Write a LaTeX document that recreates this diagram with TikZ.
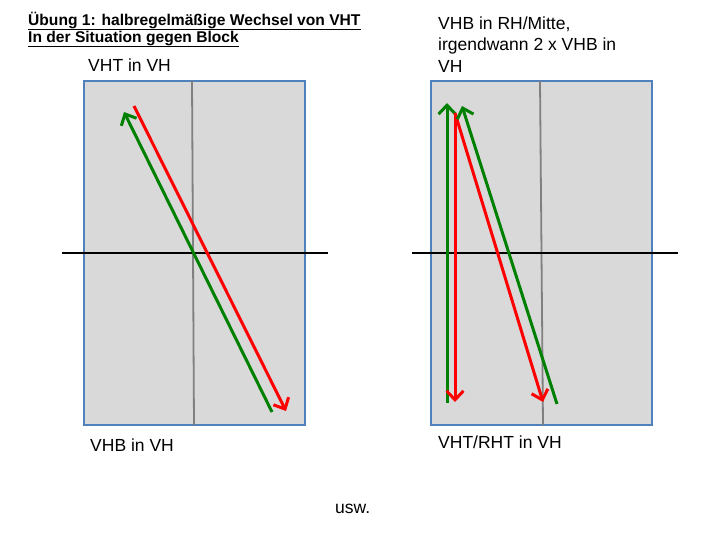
\documentclass[tikz,border=0pt]{standalone}
\usepackage{fontspec}
\setmainfont{Liberation Sans}
\usetikzlibrary{arrows.meta}
\definecolor{boxfill}{HTML}{D9D9D9}
\definecolor{boxline}{HTML}{4F81BD}
\definecolor{arrred}{HTML}{FF0000}
\definecolor{arrgreen}{HTML}{008000}
\tikzset{
  x=1pt, y=-1pt,
  field/.style={draw=boxline, fill=boxfill, line width=1.3pt},
  midline/.style={draw=gray, line width=1.8pt},
  baseline/.style={draw=black, line width=1.8pt},
  redarr/.style={draw=arrred, line width=3pt, -{Straight Barb[length=9pt,width=17pt,line width=3pt]}},
  greenarr/.style={draw=arrgreen, line width=3pt, -{Straight Barb[length=9pt,width=17pt,line width=3pt]}},
  lbl/.style={font=\fontsize{17.5}{21}\selectfont, inner sep=0pt, anchor=base west},
  ttl/.style={font=\fontsize{15.6}{18}\selectfont\bfseries, inner sep=0pt, anchor=base west},
}
\begin{document}
\begin{tikzpicture}
\useasboundingbox (0,0) rectangle (720,540);
% title
\node[ttl] (t1) at (28,26) {Übung 1: halbregelmäßige Wechsel von VHT};
\node[ttl] (t2) at (28,43) {In der Situation gegen Block};
\draw[line width=1.3pt] ([yshift=-3.5pt]t1.base west) -- ([yshift=-3.5pt]t1.base east);
\draw[line width=1.3pt] ([yshift=-3.5pt]t2.base west) -- ([yshift=-3.5pt]t2.base east);
% left field
\node[field, minimum width=221pt, minimum height=344pt, inner sep=0pt] (L) at (194.5,253) {};
\coordinate (Lm1) at (192,81);
\coordinate (Lm2) at (194,425);
\draw[midline] (Lm1) -- (Lm2);
\coordinate (Lh1) at (62,253);
\coordinate (Lh2) at (328,253);
\draw[baseline] (Lh1) -- (Lh2);
\coordinate (Lr1) at (134,106);
\coordinate (Lr2) at (286,411);
\draw[redarr] (Lr1) -- (Lr2);
\coordinate (Lg1) at (272,412);
\coordinate (Lg2) at (124,112);
\draw[greenarr] (Lg1) -- (Lg2);
\node[lbl] (lt) at (88,72) {VHT in VH};
\node[lbl] (lb) at (90,451) {VHB in VH};
% right field
\node[field, minimum width=221pt, minimum height=344pt, inner sep=0pt] (R) at (541.5,253) {};
\coordinate (Rm1) at (540,81);
\coordinate (Rm2) at (543,425);
\draw[midline] (Rm1) -- (Rm2);
\coordinate (Rh1) at (412,253);
\coordinate (Rh2) at (678,253);
\draw[baseline] (Rh1) -- (Rh2);
\coordinate (Rg1) at (447,403);
\coordinate (Rg2) at (447,103);
\draw[greenarr] (Rg1) -- (Rg2);
\coordinate (Rr0) at (455,113);
\coordinate (Rr1) at (455,402);
\coordinate (Rr2) at (543,402);
\draw[redarr] (Rr0) -- (Rr1);
\draw[redarr] (Rr0) -- (Rr2);
\coordinate (Rg3) at (557,404);
\coordinate (Rg4) at (462,106);
\draw[greenarr] (Rg3) -- (Rg4);
\node[lbl] (rt1) at (438,30) {VHB in RH/Mitte,};
\node[lbl] (rt2) at (438,51) {irgendwann 2 x VHB in};
\node[lbl] (rt3) at (438,73) {VH};
\node[lbl] (rb) at (438,448) {VHT/RHT in VH};
\node[lbl] (usw) at (335,513) {usw.};
\end{tikzpicture}
\end{document}
